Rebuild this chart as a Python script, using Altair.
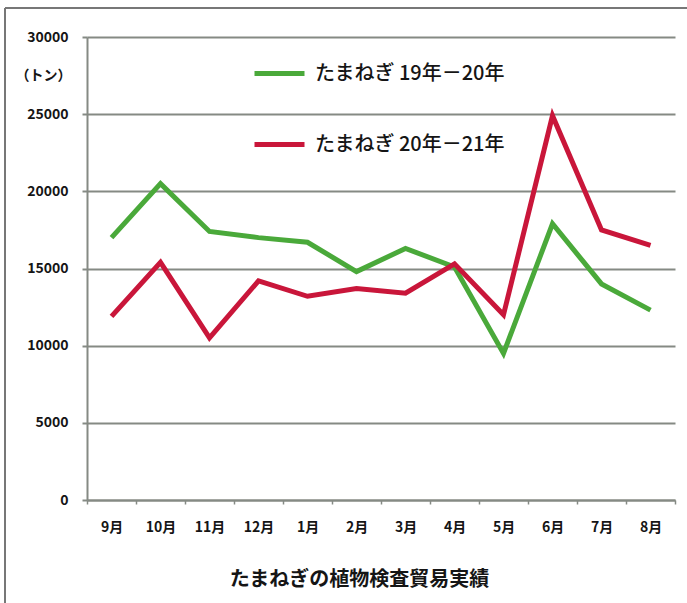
import altair as alt
import pandas as pd

# Monthly plant-quarantine volumes for onions (tonnes)
months = ["9月", "10月", "11月", "12月", "1月", "2月", "3月", "4月", "5月", "6月", "7月", "8月"]
series_names = ["たまねぎ 19年－20年", "たまねぎ 20年－21年"]
season_19_20 = [17000, 20500, 17400, 17000, 16700, 14800, 16300, 15100, 9500, 17900, 14000, 12300]
season_20_21 = [11900, 15400, 10500, 14200, 13200, 13700, 13400, 15300, 12000, 24900, 17500, 16500]
series_colors = ["#4aa93a", "#c9163a"]

rows = []
for name, values in zip(series_names, [season_19_20, season_20_21]):
    for m, v in zip(months, values):
        rows.append({"month": m, "tons": v, "series": name})
df = pd.DataFrame(rows)

FONT = "Noto Sans CJK JP"
GRID = "#858a84"
INK = "#151515"

x_enc = alt.X(
    "month:N",
    sort=months,
    scale=alt.Scale(type="band", paddingInner=0, paddingOuter=0),
    axis=alt.Axis(
        title="たまねぎの植物検査貿易実績",
        titleFont=FONT, titleFontSize=20, titleFontWeight="bold", titleColor=INK,
        titlePadding=35, titleX=272,
        labelFont=FONT, labelFontSize=14, labelFontWeight="bold", labelColor=INK,
        labelAngle=0, labelPadding=16,
        tickBand="extent", tickSize=4, tickColor=GRID, tickWidth=1.5,
        domainColor=GRID, domainWidth=2,
    ),
)

y_enc = alt.Y(
    "tons:Q",
    scale=alt.Scale(domain=[0, 30000]),
    axis=alt.Axis(
        values=[0, 5000, 10000, 15000, 20000, 25000, 30000],
        format="d",
        title="（トン）",
        titleAngle=0, titleX=-16, titleY=38, titleAlign="right", titleBaseline="middle",
        titleFont=FONT, titleFontSize=14, titleFontWeight="bold", titleColor=INK,
        labelFont=FONT, labelFontSize=14, labelFontWeight="bold", labelColor=INK,
        labelPadding=14,
        tickSize=5, tickColor=GRID, tickWidth=2,
        domainColor=GRID, domainWidth=2,
        grid=True, gridColor=GRID, gridWidth=2,
    ),
)

lines = alt.Chart(df).mark_line(strokeWidth=5, strokeJoin="miter").encode(
    x=x_enc,
    y=y_enc,
    color=alt.Color(
        "series:N",
        sort=series_names,
        scale=alt.Scale(domain=series_names, range=series_colors),
        legend=alt.Legend(
            title=None, orient="none", legendX=165, legendY=9,
            symbolType="stroke", symbolSize=2500, symbolStrokeWidth=5,
            labelFont=FONT, labelFontSize=20, labelFontWeight=500, labelColor=INK, labelOffset=8,
            rowPadding=33, labelLimit=400,
        ),
    ),
)

# thin frame around the whole figure
frame_top = alt.Chart(df).mark_rule(color="#777777", strokeWidth=2).encode(
    x=alt.value(-82), x2=alt.value(600), y=alt.value(-29)
)
frame_left = alt.Chart(df).mark_rule(color="#777777", strokeWidth=2).encode(
    x=alt.value(-82), y=alt.value(-29), y2=alt.value(566)
)

chart = alt.layer(frame_top, frame_left, lines).properties(
    width=588,
    height=463,
    padding={"left": 87, "top": 37, "right": 12, "bottom": 103},
    autosize=alt.AutoSizeParams(type="none"),
    background="white",
).configure_view(stroke=None)

chart.save("out.html", embed_options={"renderer": "svg", "actions": False})
